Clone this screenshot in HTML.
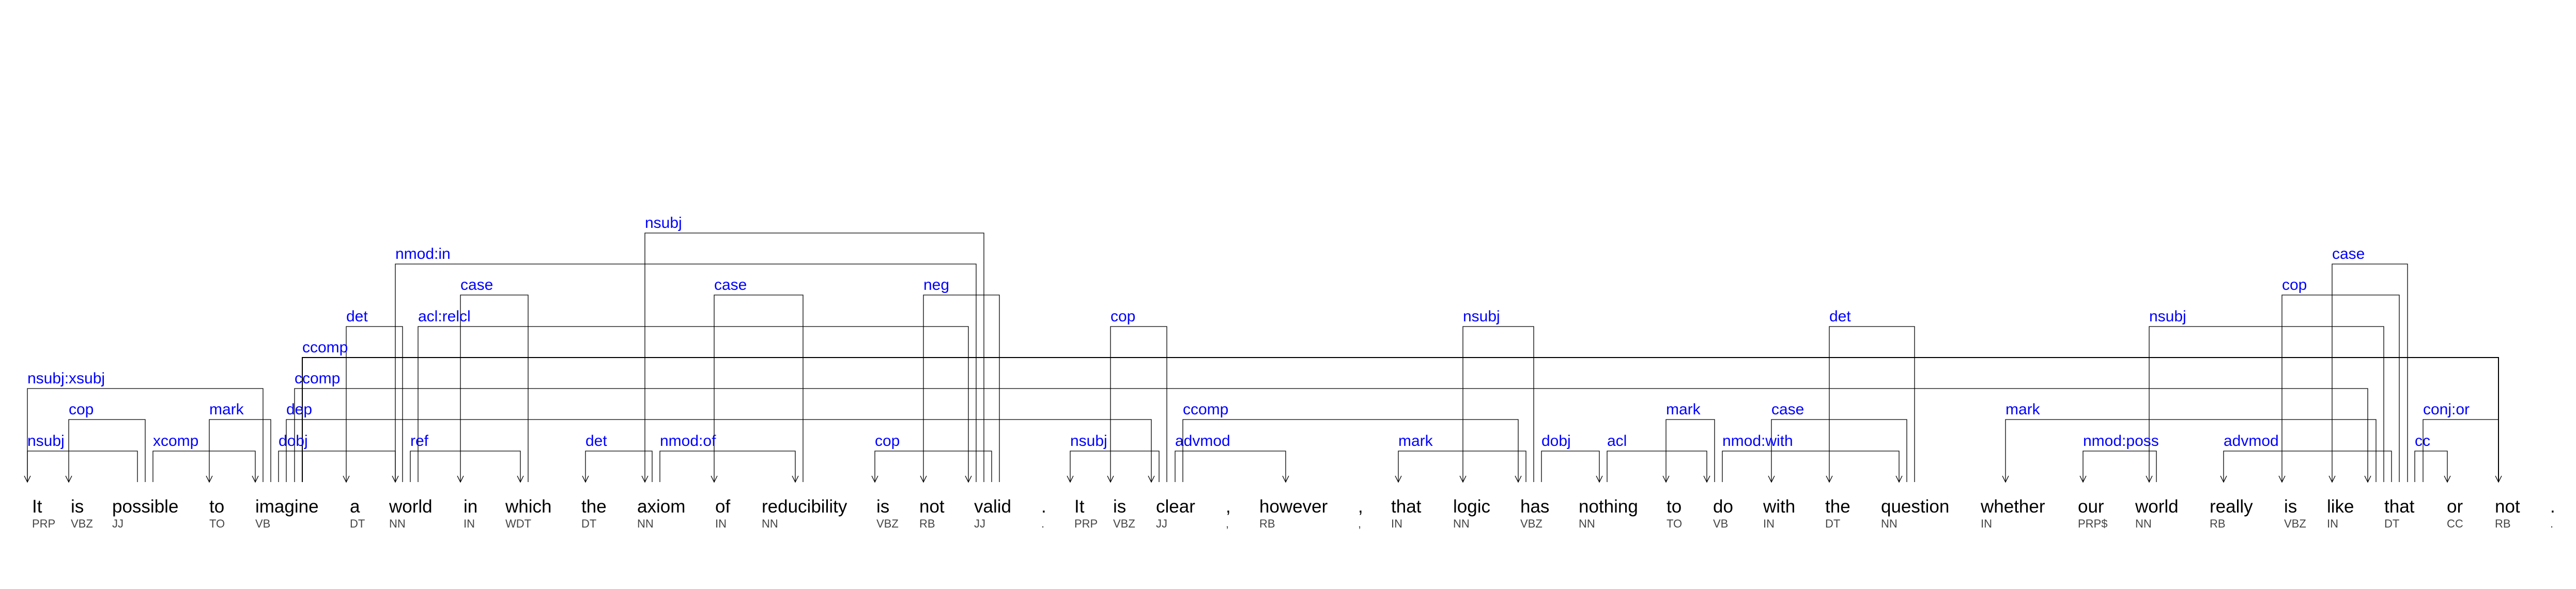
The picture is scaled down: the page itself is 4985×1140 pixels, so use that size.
<!DOCTYPE html>
<html><head><meta charset="utf-8"><style>
html,body{margin:0;padding:0;background:#fff;}
svg{display:block;}
.w{font-family:"Liberation Sans",Arial,sans-serif;font-size:35px;fill:#000;}
.t{font-family:"Liberation Sans",Arial,sans-serif;font-size:22px;fill:#444;}
.l{font-family:"Liberation Sans",Arial,sans-serif;font-size:30px;fill:#00f;}
path{fill:none;stroke:#000;stroke-width:1.3;}
</style></head><body>
<svg width="4985" height="1140" viewBox="0 0 4985 1140" xmlns="http://www.w3.org/2000/svg">
<g>
<path d="M53 933V873H266V933"/><path d="M133 933V812H281V933"/><path d="M53 933V752H509V933"/>
<path d="M296 933V873H494V933"/><path d="M405 933V812H524V933"/><path d="M539 933V873H765V933"/>
<path d="M554 933V812H2228V933"/><path d="M570 933V752H4582V933"/><path d="M585 933V692H4835V933" style="stroke-width:2"/>
<path d="M670 933V632H779V933"/><path d="M765 933V511H1889V933"/><path d="M809 933V632H1874V933"/>
<path d="M794 933V873H1007V933"/><path d="M891 933V571H1022V933"/><path d="M1133 933V873H1262V933"/>
<path d="M1248 933V451H1904V933"/><path d="M1277 933V873H1539V933"/><path d="M1382 933V571H1554V933"/>
<path d="M1787 933V571H1934V933"/><path d="M1693 933V873H1919V933"/><path d="M2071 933V873H2243V933"/>
<path d="M2149 933V632H2258V933"/><path d="M2289 933V812H2938V933"/><path d="M2274 933V873H2488V933"/>
<path d="M2706 933V873H2953V933"/><path d="M2831 933V632H2968V933"/><path d="M2983 933V873H3095V933"/>
<path d="M3110 933V873H3303V933"/><path d="M3224 933V812H3318V933"/><path d="M3333 933V873H3675V933"/>
<path d="M3428 933V812H3690V933"/><path d="M3540 933V632H3705V933"/><path d="M3881 933V812H4598V933"/>
<path d="M4031 933V873H4173V933"/><path d="M4159 933V632H4613V933"/><path d="M4303 933V873H4628V933"/>
<path d="M4416 933V571H4643V933"/><path d="M4513 933V511H4659V933"/><path d="M4689 933V812H4835V933"/>
<path d="M4673 933V873H4736V933"/>
</g>
<g>
<path d="M47 921L53 933L59 921"/><path d="M127 921L133 933L139 921"/><path d="M488 921L494 933L500 921"/>
<path d="M399 921L405 933L411 921"/><path d="M759 921L765 933L771 921"/><path d="M2222 921L2228 933L2234 921"/>
<path d="M4576 921L4582 933L4588 921"/><path d="M4829 921L4835 933L4841 921"/><path d="M664 921L670 933L676 921"/>
<path d="M1868 921L1874 933L1880 921"/><path d="M1001 921L1007 933L1013 921"/><path d="M885 921L891 933L897 921"/>
<path d="M1127 921L1133 933L1139 921"/><path d="M1242 921L1248 933L1254 921"/><path d="M1533 921L1539 933L1545 921"/>
<path d="M1376 921L1382 933L1388 921"/><path d="M1781 921L1787 933L1793 921"/><path d="M1687 921L1693 933L1699 921"/>
<path d="M2065 921L2071 933L2077 921"/><path d="M2143 921L2149 933L2155 921"/><path d="M2932 921L2938 933L2944 921"/>
<path d="M2482 921L2488 933L2494 921"/><path d="M2700 921L2706 933L2712 921"/><path d="M2825 921L2831 933L2837 921"/>
<path d="M3089 921L3095 933L3101 921"/><path d="M3297 921L3303 933L3309 921"/><path d="M3218 921L3224 933L3230 921"/>
<path d="M3669 921L3675 933L3681 921"/><path d="M3422 921L3428 933L3434 921"/><path d="M3534 921L3540 933L3546 921"/>
<path d="M3875 921L3881 933L3887 921"/><path d="M4025 921L4031 933L4037 921"/><path d="M4153 921L4159 933L4165 921"/>
<path d="M4297 921L4303 933L4309 921"/><path d="M4410 921L4416 933L4422 921"/><path d="M4507 921L4513 933L4519 921"/>
<path d="M4730 921L4736 933L4742 921"/>
</g>
<g class="l">
<text x="53" y="863">nsubj</text><text x="133" y="802">cop</text><text x="53" y="742">nsubj:xsubj</text>
<text x="296" y="863">xcomp</text><text x="405" y="802">mark</text><text x="539" y="863">dobj</text>
<text x="554" y="802">dep</text><text x="570" y="742">ccomp</text><text x="585" y="682">ccomp</text>
<text x="670" y="622">det</text><text x="765" y="501">nmod:in</text><text x="809" y="622">acl:relcl</text>
<text x="794" y="863">ref</text><text x="891" y="561">case</text><text x="1133" y="863">det</text>
<text x="1248" y="441">nsubj</text><text x="1277" y="863">nmod:of</text><text x="1382" y="561">case</text>
<text x="1787" y="561">neg</text><text x="1693" y="863">cop</text><text x="2071" y="863">nsubj</text>
<text x="2149" y="622">cop</text><text x="2289" y="802">ccomp</text><text x="2274" y="863">advmod</text>
<text x="2706" y="863">mark</text><text x="2831" y="622">nsubj</text><text x="2983" y="863">dobj</text>
<text x="3110" y="863">acl</text><text x="3224" y="802">mark</text><text x="3333" y="863">nmod:with</text>
<text x="3428" y="802">case</text><text x="3540" y="622">det</text><text x="3881" y="802">mark</text>
<text x="4031" y="863">nmod:poss</text><text x="4159" y="622">nsubj</text><text x="4303" y="863">advmod</text>
<text x="4416" y="561">cop</text><text x="4513" y="501">case</text><text x="4689" y="802">conj:or</text>
<text x="4673" y="863">cc</text>
</g>
<g class="w">
<text x="62" y="992">It</text><text x="137" y="992">is</text><text x="217" y="992">possible</text><text x="405" y="992">to</text>
<text x="494" y="992">imagine</text><text x="677" y="992">a</text><text x="753" y="992">world</text><text x="897" y="992">in</text>
<text x="978" y="992">which</text><text x="1125" y="992">the</text><text x="1233" y="992">axiom</text><text x="1384" y="992">of</text>
<text x="1474" y="992">reducibility</text><text x="1696" y="992">is</text><text x="1779" y="992">not</text><text x="1885" y="992">valid</text>
<text x="2015" y="992">.</text><text x="2079" y="992">It</text><text x="2154" y="992">is</text><text x="2237" y="992">clear</text>
<text x="2372" y="992">,</text><text x="2437" y="992">however</text><text x="2628" y="992">,</text><text x="2692" y="992">that</text>
<text x="2812" y="992">logic</text><text x="2942" y="992">has</text><text x="3055" y="992">nothing</text><text x="3225" y="992">to</text>
<text x="3315" y="992">do</text><text x="3412" y="992">with</text><text x="3532" y="992">the</text><text x="3640" y="992">question</text>
<text x="3833" y="992">whether</text><text x="4021" y="992">our</text><text x="4132" y="992">world</text><text x="4276" y="992">really</text>
<text x="4420" y="992">is</text><text x="4503" y="992">like</text><text x="4614" y="992">that</text><text x="4735" y="992">or</text>
<text x="4828" y="992">not</text><text x="4935" y="992">.</text>
</g>
<g class="t">
<text x="62" y="1021">PRP</text><text x="137" y="1021">VBZ</text><text x="217" y="1021">JJ</text><text x="405" y="1021">TO</text>
<text x="494" y="1021">VB</text><text x="677" y="1021">DT</text><text x="753" y="1021">NN</text><text x="897" y="1021">IN</text>
<text x="978" y="1021">WDT</text><text x="1125" y="1021">DT</text><text x="1233" y="1021">NN</text><text x="1384" y="1021">IN</text>
<text x="1474" y="1021">NN</text><text x="1696" y="1021">VBZ</text><text x="1779" y="1021">RB</text><text x="1885" y="1021">JJ</text>
<text x="2015" y="1021">.</text><text x="2079" y="1021">PRP</text><text x="2154" y="1021">VBZ</text><text x="2237" y="1021">JJ</text>
<text x="2372" y="1021">,</text><text x="2437" y="1021">RB</text><text x="2628" y="1021">,</text><text x="2692" y="1021">IN</text>
<text x="2812" y="1021">NN</text><text x="2942" y="1021">VBZ</text><text x="3055" y="1021">NN</text><text x="3225" y="1021">TO</text>
<text x="3315" y="1021">VB</text><text x="3412" y="1021">IN</text><text x="3532" y="1021">DT</text><text x="3640" y="1021">NN</text>
<text x="3833" y="1021">IN</text><text x="4021" y="1021">PRP$</text><text x="4132" y="1021">NN</text><text x="4276" y="1021">RB</text>
<text x="4420" y="1021">VBZ</text><text x="4503" y="1021">IN</text><text x="4614" y="1021">DT</text><text x="4735" y="1021">CC</text>
<text x="4828" y="1021">RB</text><text x="4935" y="1021">.</text>
</g>
</svg>
</body></html>
